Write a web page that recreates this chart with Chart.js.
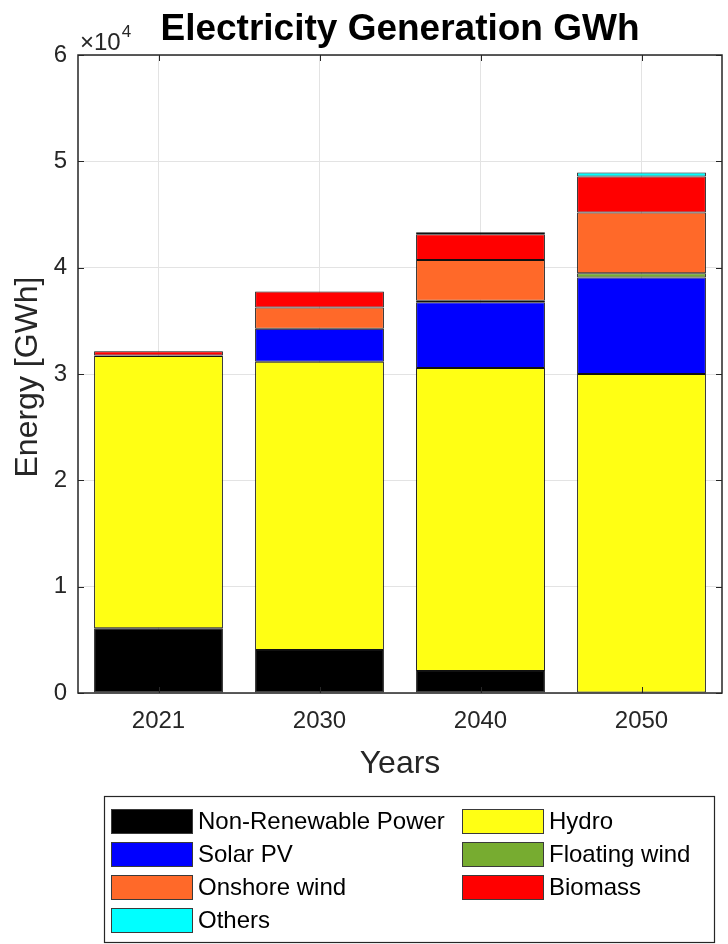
<!DOCTYPE html>
<html>
<head>
<meta charset="utf-8">
<title>Electricity Generation GWh</title>
<script src="https://cdn.jsdelivr.net/npm/chart.js@4.4.1/dist/chart.umd.min.js"></script>
<style>
  html, body { margin: 0; padding: 0; background: #fff; }
  #wrap { width: 728px; height: 944px; }
</style>
</head>
<body>
<div id="wrap"><canvas id="gen-chart" width="728" height="944"></canvas></div>
<script>
// data (GWh)
const years = ["2021", "2030", "2040", "2050"];
const nonRenewable = [6100, 4050, 2070, 0];
const hydro = [25600, 27100, 28500, 30000];
const solarPV = [0, 3100, 6180, 9070];
const floatingWind = [0, 0, 150, 410];
const onshoreWind = [50, 2000, 3830, 5700];
const biomass = [400, 1500, 2420, 3390];
const others = [0, 0, 180, 380];
const yTicks = [0, 1, 2, 3, 4, 5, 6];

const FONT = "'Liberation Sans', Arial, Helvetica, sans-serif";
const TXT = "#262626";

// axes box, inward ticks, titles and the 2-column legend
const decorations = {
  id: "decorations",
  afterDraw(chart) {
    const ctx = chart.ctx;
    const a = chart.chartArea;
    const x = chart.scales.x, y = chart.scales.y;
    ctx.save();

    ctx.strokeStyle = TXT;
    ctx.lineWidth = 1;
    // inward tick marks
    ctx.beginPath();
    yTicks.forEach(t => {
      const py = Math.round(y.getPixelForValue(t * 10000)) + 0.5;
      ctx.moveTo(a.left, py); ctx.lineTo(a.left + 6, py);
      ctx.moveTo(a.right, py); ctx.lineTo(a.right - 6, py);
    });
    years.forEach((_, i) => {
      const px = Math.round(x.getPixelForValue(i)) + 0.5;
      ctx.moveTo(px, a.bottom); ctx.lineTo(px, a.bottom - 6);
      ctx.moveTo(px, a.top); ctx.lineTo(px, a.top + 6);
    });
    ctx.stroke();
    // box
    ctx.lineWidth = 1.5;
    ctx.strokeRect(a.left, a.top, a.right - a.left, a.bottom - a.top);

    // title
    ctx.fillStyle = "#000";
    ctx.font = "bold 37px " + FONT;
    ctx.textAlign = "center";
    ctx.textBaseline = "alphabetic";
    ctx.fillText("Electricity Generation GWh", (a.left + a.right) / 2, 40);

    // exponent
    ctx.fillStyle = TXT;
    ctx.textAlign = "left";
    ctx.font = "24px " + FONT;
    ctx.fillText("\u00d710", 80, 50);
    const w = ctx.measureText("\u00d710").width;
    ctx.font = "17px " + FONT;
    ctx.fillText("4", 80 + w + 1, 37);

    // axis titles
    ctx.font = "32px " + FONT;
    ctx.textAlign = "center";
    ctx.textBaseline = "middle";
    ctx.fillText("Years", (a.left + a.right) / 2, 764);
    ctx.save();
    ctx.translate(28, (a.top + a.bottom) / 2 + 3);
    ctx.rotate(-Math.PI / 2);
    ctx.fillText("Energy [GWh]", 0, 0);
    ctx.restore();

    // legend
    ctx.fillStyle = "#fff";
    ctx.fillRect(104, 796, 610, 146);
    ctx.strokeStyle = TXT;
    ctx.lineWidth = 1.2;
    ctx.strokeRect(104.5, 796.5, 610, 146);
    ctx.font = "24px " + FONT;
    ctx.textAlign = "left";
    ctx.textBaseline = "middle";
    chart.data.datasets.forEach((ds, i) => {
      const col = i % 2, row = Math.floor(i / 2);
      const sx = col === 0 ? 111 : 462;
      const cy = 821 + row * 33;
      ctx.fillStyle = ds.backgroundColor;
      ctx.fillRect(sx, cy - 12, 82, 25);
      ctx.strokeStyle = "#3a3a3a";
      ctx.lineWidth = 1;
      ctx.strokeRect(sx + 0.5, cy - 11.5, 81, 24);
      ctx.fillStyle = "#000";
      ctx.fillText(ds.label, sx + 87, cy + 1);
    });

    ctx.restore();
  }
};

function series(label, data, color) {
  return {
    label: label,
    data: data,
    backgroundColor: color,
    borderColor: "#111111",
    borderWidth: 1,
    borderSkipped: false,
    barPercentage: 0.8,
    categoryPercentage: 1.0
  };
}

new Chart(document.getElementById("gen-chart"), {
  type: "bar",
  data: {
    labels: years,
    datasets: [
      series("Non-Renewable Power", nonRenewable, "#000000"),
      series("Hydro", hydro, "#ffff14"),
      series("Solar PV", solarPV, "#0000ff"),
      series("Floating wind", floatingWind, "#77ac30"),
      series("Onshore wind", onshoreWind, "#ff6929"),
      series("Biomass", biomass, "#ff0000"),
      series("Others", others, "#00ffff")
    ]
  },
  options: {
    responsive: false,
    animation: false,
    layout: { padding: { left: 0, right: 6, top: 55, bottom: 211 } },
    plugins: {
      legend: { display: false },
      title: { display: false },
      tooltip: { enabled: false }
    },
    scales: {
      x: {
        stacked: true,
        offset: true,
        grid: { offset: false, color: "#e3e3e3", drawTicks: false },
        border: { display: false },
        ticks: { color: TXT, font: { family: FONT, size: 24 }, padding: 14 },
        afterFit(scale) { scale.height = 40; }
      },
      y: {
        stacked: true,
        min: 0,
        max: 60000,
        grid: { color: "#e3e3e3", drawTicks: false },
        border: { display: false },
        ticks: {
          stepSize: 10000,
          color: TXT,
          font: { family: FONT, size: 24 },
          padding: 11,
          callback: v => String(v / 10000)
        },
        afterFit(scale) { scale.width = 78; }
      }
    }
  },
  plugins: [decorations]
});
</script>
</body>
</html>
